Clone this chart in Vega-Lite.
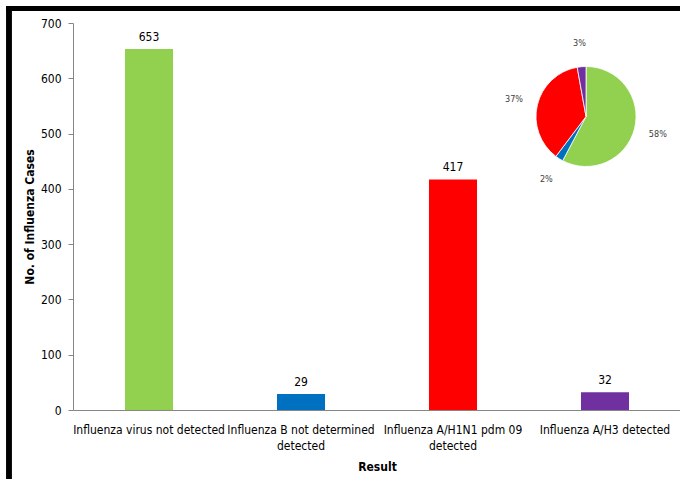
{
  "$schema": "https://vega.github.io/schema/vega-lite/v6.json",
  "width": 608,
  "height": 387,
  "padding": {"left": 5, "top": 4, "right": 0, "bottom": 0},
  "autosize": {"type": "pad"},
  "config": {
    "view": {"stroke": null},
    "font": "Liberation Sans Narrow, DejaVu Sans Condensed, Lato, sans-serif"
  },
  "data": {
    "values": [
      {"Result": "Influenza virus not detected", "Count": 653, "rank": 1, "pieLabel": "58%"},
      {"Result": "Influenza B not determined detected", "Count": 29, "rank": 2, "pieLabel": "2%"},
      {"Result": "Influenza A/H1N1 pdm 09 detected", "Count": 417, "rank": 3, "pieLabel": "37%"},
      {"Result": "Influenza A/H3 detected", "Count": 32, "rank": 4, "pieLabel": "3%"}
    ]
  },
  "layer": [
    {
      "encoding": {
        "x": {
          "field": "Result", "type": "nominal", "sort": null,
          "scale": {"paddingInner": 0.684, "paddingOuter": 0.342},
          "axis": {
            "title": "Result", "titleFontSize": 12, "titleFontWeight": "bold", "titleColor": "#000",
            "titlePadding": 10,
            "labelAngle": 0, "labelFontSize": 12, "labelColor": "#000", "labelLineHeight": 16,
            "labelPadding": 14, "labelOverlap": false, "labelBound": false, "labelLimit": 300,
            "ticks": false, "tickSize": 0, "domainColor": "#868686",
            "labelExpr": "datum.label == 'Influenza B not determined detected' ? ['Influenza B not determined', 'detected'] : datum.label == 'Influenza A/H1N1 pdm 09 detected' ? ['Influenza A/H1N1 pdm 09', 'detected'] : datum.label"
          }
        },
        "y": {
          "field": "Count", "type": "quantitative",
          "scale": {"domain": [0, 700], "nice": false},
          "axis": {
            "title": "No. of Influenza Cases", "titleFontSize": 12, "titleFontWeight": "bold", "titleColor": "#000",
            "titlePadding": 4,
            "values": [0, 100, 200, 300, 400, 500, 600, 700],
            "labelFontSize": 12, "labelColor": "#000", "labelPadding": 7,
            "tickSize": 5, "tickColor": "#868686", "domainColor": "#868686", "grid": false
          }
        }
      },
      "layer": [
        {
          "mark": {"type": "bar"},
          "encoding": {
            "color": {
              "field": "Result", "type": "nominal", "legend": null,
              "scale": {
                "domain": ["Influenza virus not detected", "Influenza B not determined detected", "Influenza A/H1N1 pdm 09 detected", "Influenza A/H3 detected"],
                "range": ["#92D050", "#0070C0", "#FF0000", "#7030A0"]
              }
            }
          }
        },
        {
          "mark": {"type": "text", "baseline": "bottom", "dy": -5, "fontSize": 12, "color": "#000"},
          "encoding": {"text": {"field": "Count", "type": "quantitative"}}
        }
      ]
    },
    {
      "encoding": {
        "x": {"datum": 0.8438, "type": "quantitative", "scale": {"domain": [0, 1]}, "axis": null},
        "y": {"datum": 530.9, "type": "quantitative"},
        "theta": {"field": "Count", "type": "quantitative", "stack": true},
        "order": {"field": "rank", "type": "quantitative"}
      },
      "layer": [
        {
          "mark": {"type": "arc", "outerRadius": 50, "stroke": "#fff", "strokeWidth": 0.8},
          "encoding": {
            "color": {"field": "Result", "type": "nominal", "legend": null}
          }
        },
        {
          "mark": {"type": "text", "radius": 74, "fontSize": 9, "color": "#404040"},
          "encoding": {"text": {"field": "pieLabel", "type": "nominal"}}
        }
      ]
    },
    {
      "mark": {"type": "rule", "color": "#000", "strokeWidth": 5, "strokeCap": "square"},
      "encoding": {
        "x": {"datum": -0.1053, "type": "quantitative", "scale": {"domain": [0, 1]}, "axis": null},
        "x2": {"datum": 1.01},
        "y": {"datum": 726.2, "type": "quantitative"}
      }
    },
    {
      "mark": {"type": "rule", "color": "#000", "strokeWidth": 5, "strokeCap": "square"},
      "encoding": {
        "x": {"datum": -0.1053, "type": "quantitative", "scale": {"domain": [0, 1]}, "axis": null},
        "y": {"datum": 726.2, "type": "quantitative"},
        "y2": {"datum": -140}
      }
    }
  ],
  "resolve": {"scale": {"x": "independent"}}
}
